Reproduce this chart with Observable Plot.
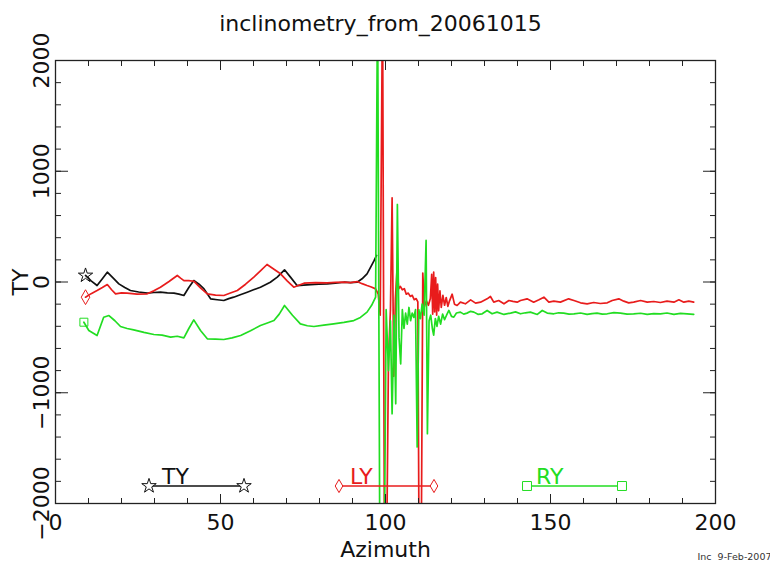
<!DOCTYPE html>
<html><head><meta charset="utf-8">
<script src="https://cdn.jsdelivr.net/npm/d3@7"></script>
<script src="https://cdn.jsdelivr.net/npm/@observablehq/plot@0.6"></script>
<style>
html,body{margin:0;padding:0;background:#fff;}
#chart{width:770px;height:565px;overflow:hidden;}
</style></head><body><div id="chart"></div>
<script>
const chartTitle = "inclinometry_from_20061015";
const xLabel = "Azimuth";
const yLabel = "TY";
const stamp = "Inc  9-Feb-2007";
const xTickValues = [0, 50, 100, 150, 200];
const xMinorTicks = d3.range(0, 201, 10);
const yTickValues = [-2000, -1000, 0, 1000, 2000];
const yMinorTicks = d3.range(-2000, 2001, 200);
const seriesNames = ["TY", "LY", "RY"];
const seriesColors = ["#111111", "#e81c1c", "#22dd22"];
const seriesSymbols = ["star", "diamond", "square"];

// [azimuth, value]
const tyPoints = [[9.1,59],[10.8,10],[12.6,-32],[14.2,30],[15.7,89],[17.5,35],[19.2,-17],[21,-50],[22.7,-77],[25.2,-90],[27.8,-101],[29.8,-95],[31.8,-92],[33.9,-98],[35.9,-101],[37.4,-110],[38.9,-122],[40.4,-50],[41.9,13],[43.5,-20],[45,-62],[47,-152],[49,-160],[51,-167],[52.5,-150],[54,-137],[56,-115],[58.1,-92],[60,-70],[62.1,-47],[63.6,-25],[65.1,-2],[67.2,44],[69.4,110],[71.2,44],[73.2,-32],[75.2,-28],[77.3,-23],[79.8,-20],[82.3,-17],[84.8,-10],[87.4,-2],[89.4,-5],[91.4,-2],[92.9,29],[94.4,74],[95.5,134],[96.5,190],[97.3,240]];

const lyPoints = [[9.1,-137],[10.8,-105],[12.6,-77],[14.2,-50],[15.7,-23],[17,-70],[18.2,-107],[20,-98],[21.7,-101],[24.7,-110],[27.8,-107],[29.8,-80],[31.8,-47],[34.4,5],[36.9,59],[37.9,35],[38.9,13],[40.4,12],[41.9,7],[44,-55],[46,-107],[48.5,-118],[51,-122],[53,-100],[55.1,-77],[57.6,-20],[60.1,44],[62.1,100],[64.1,158],[66.2,115],[68.2,74],[70.2,10],[72.2,-47],[73.7,-30],[75.3,-11],[78.8,-5],[82.3,-8],[84.8,-4],[87.4,-2],[89.4,-6],[91.4,4],[92.9,-15],[94.4,-32],[95.7,-45],[97.0,-62],
[97.8,-110],[98.4,-300],[99.1,2600],[99.7,-2600],[100.3,-2600],[100.9,-700],[101.5,-250],[102.0,760],[102.5,-850],[103.0,-150],[103.5,120],[104.0,-60],[104.5,-40],[105.1,-70],[105.7,-60],[106.3,-110],[106.9,-100],[107.5,-130],[108.1,-120],[108.7,-160],[109.3,-150],[109.8,-180],[110.2,-2600],[110.8,-2600],[111.3,80],[111.8,-220],[112.4,-170],[113.0,-210],[113.6,-150],[114.0,70],[114.3,-290],[114.6,90],[114.9,-270],[115.2,40],[115.5,-300],[115.8,-20],[116.1,-260],[116.5,-80],[116.9,-230],[117.4,-120],[117.9,-210],[118.4,-140],[118.9,-220],[119.4,-170],[120.2,-110],[120.9,-200],[121.7,-212],[122.7,-182],[124.2,-197],[125.8,-161],[127.3,-191],[128.8,-182],[130.8,-152],[131.8,-131],[132.8,-182],[134.3,-167],[135.9,-197],[137.4,-167],[138.6,-175],[139.9,-182],[140.9,-167],[142.9,-152],[144.9,-182],[146.5,-161],[148,-137],[149.5,-182],[151,-173],[153,-182],[155.5,-152],[157.1,-167],[159.1,-188],[161.1,-197],[163.1,-185],[165.1,-194],[167.2,-188],[168.7,-167],[170.7,-152],[172.2,-173],[173.7,-188],[175.2,-182],[177.3,-167],[179.3,-182],[181.3,-176],[183.3,-185],[185.3,-173],[187.4,-182],[188.9,-161],[190.4,-182],[191.9,-173],[193.4,-182]];

const ryPoints = [[8.6,-363],[10.1,-438],[12.6,-483],[14.6,-318],[16.2,-303],[18,-350],[19.7,-402],[21.7,-420],[23.7,-432],[26.8,-455],[29.8,-474],[32.3,-480],[34.9,-498],[36.9,-490],[38.9,-504],[40.4,-420],[41.9,-342],[44,-440],[46,-513],[48.5,-515],[51,-519],[53.5,-505],[56.1,-483],[59.1,-440],[62.1,-393],[64.2,-370],[66.2,-348],[67.8,-290],[69.4,-212],[71.8,-300],[74.2,-378],[76.3,-395],[78.3,-402],[81.3,-390],[84.3,-378],[87.4,-365],[90.4,-348],[92.4,-320],[94.4,-272],[95.8,-210],[97.0,-137],
[97.6,2600],[98.3,-2600],[99.6,-2600],[100.2,-250],[100.9,-800],[101.5,-350],[102.0,-1190],[102.6,-300],[103.1,-1100],[103.6,700],[104.1,-500],[104.6,-740],[105.1,-250],[105.6,-420],[106.1,-280],[106.6,-380],[107.1,-230],[107.6,-350],[108.1,-280],[108.6,-320],[109.1,-250],[109.6,-1490],[110.1,-250],[110.6,-330],[111.1,-200],[111.7,-300],[112.3,375],[112.7,-1370],[113.2,-350],[113.7,-300],[114.2,-420],[114.6,-480],[115.1,-330],[115.6,-400],[116.1,-310],[116.7,-380],[117.3,-290],[117.9,-340],[118.5,-300],[119.2,-257],[120.0,-310],[120.7,-317],[121.5,-280],[122.7,-272],[123.7,-290],[124.7,-281],[125.8,-265],[126.8,-272],[128,-292],[129.3,-287],[130.8,-257],[132.3,-287],[133.8,-272],[135.9,-293],[137.9,-281],[139.4,-270],[140.9,-287],[142.4,-278],[143.9,-272],[146,-293],[147.5,-257],[149,-281],[151,-287],[152.5,-278],[154,-281],[155.6,-290],[157.1,-287],[159.1,-280],[161.1,-293],[162.6,-285],[164.1,-281],[165.7,-290],[167.2,-287],[169.2,-276],[171.2,-281],[173.2,-290],[175.2,-287],[177.3,-282],[179.3,-293],[181.3,-285],[183.3,-287],[185.3,-280],[187.4,-293],[189.4,-284],[191.4,-287],[193.4,-293]];

const series = [tyPoints, lyPoints, ryPoints].map((pts, i) =>
  pts.map(([x, y]) => ({x, y, name: seriesNames[i]})));
const firstPoints = series.map(s => s[0]);
const fmtY = d => d < 0 ? "\u2212" + Math.abs(d) : String(d);

const W = 770, H = 565;
const M = {left: 55, right: 55, top: 60, bottom: 62};
const FONT = 22;
const colorOf = name => seriesColors[seriesNames.indexOf(name)];
const symbolOf = name => seriesSymbols[seriesNames.indexOf(name)];

const plot = Plot.plot({
  width: W, height: H,
  marginLeft: M.left, marginRight: M.right, marginTop: M.top, marginBottom: M.bottom,
  x: {domain: [0, 200], axis: null},
  y: {domain: [-2000, 2000], axis: null},
  style: {fontFamily: "DejaVu Sans", fontSize: FONT + "px", background: "#fff", color: "#111"},
  marks: [
    ...series.map(s => Plot.line(s, {x: "x", y: "y", stroke: colorOf(s[0].name), strokeWidth: 1.7, clip: true})),
    Plot.dot(firstPoints, {x: "x", y: "y", symbol: d => symbolOf(d.name), stroke: d => colorOf(d.name), fill: "none", r: 4.5, strokeWidth: 1}),
    Plot.axisX(xMinorTicks, {anchor: "bottom", tickSize: -5, tickFormat: () => "", label: null, stroke: "#222"}),
    Plot.axisX(xTickValues, {anchor: "bottom", tickSize: -9, tickFormat: () => "", label: null, stroke: "#222"}),
    Plot.axisX(xMinorTicks, {anchor: "top", tickSize: -5, tickFormat: () => "", label: null, stroke: "#222"}),
    Plot.axisX(xTickValues, {anchor: "top", tickSize: -9, tickFormat: () => "", label: null, stroke: "#222"}),
    Plot.axisY(yMinorTicks, {anchor: "left", tickSize: -6, tickFormat: () => "", label: null, stroke: "#222"}),
    Plot.axisY(yTickValues, {anchor: "left", tickSize: -13, tickFormat: () => "", label: null, stroke: "#222"}),
    Plot.axisY(yMinorTicks, {anchor: "right", tickSize: -6, tickFormat: () => "", label: null, stroke: "#222"}),
    Plot.axisY(yTickValues, {anchor: "right", tickSize: -13, tickFormat: () => "", label: null, stroke: "#222"}),
    Plot.frame({stroke: "#222", strokeWidth: 1.3}),
    Plot.text(xTickValues, {x: d => d, frameAnchor: "bottom", dy: 11, lineAnchor: "top", text: d => String(d), fontSize: FONT, fill: "#111"}),
    Plot.text(yTickValues, {y: d => d, frameAnchor: "left", dx: -7, rotate: -90, lineAnchor: "bottom", textAnchor: "middle", text: fmtY, fontSize: FONT, fill: "#111"}),
    Plot.text([chartTitle], {frameAnchor: "top", dx: -5, dy: -30, lineAnchor: "bottom", text: d => d, fontSize: FONT, fill: "#111"}),
    Plot.text([xLabel], {frameAnchor: "bottom", dy: 53, lineAnchor: "bottom", text: d => d, fontSize: FONT, fill: "#111"}),
    Plot.text([yLabel], {frameAnchor: "left", dx: -28, rotate: -90, lineAnchor: "bottom", textAnchor: "middle", text: d => d, fontSize: FONT, fill: "#111"}),
    Plot.text([stamp], {frameAnchor: "bottom-right", dx: -18, dy: 56, textAnchor: "start", lineAnchor: "bottom", text: d => d, fontSize: 9.5, fill: "#333"})
  ]
});

// legend (IDL-style, inside the frame near the bottom)
const legendLayout = {y: H - M.bottom - 17, starts: [149, 339, 527], length: 95, labelDx: [13, 11, 9]};
const d3Sym = {star: [d3.symbolStar, 65], diamond: [d3.symbolDiamond, 50], square: [d3.symbolSquare, 80]};
const svg = d3.select(plot);
const lg = svg.append("g").attr("font-family", "DejaVu Sans").attr("font-size", FONT).attr("text-anchor", "start");
seriesNames.forEach((name, i) => {
  const x0 = legendLayout.starts[i], x1 = x0 + legendLayout.length, y = legendLayout.y;
  const c = seriesColors[i];
  lg.append("line").attr("x1", x0).attr("x2", x1).attr("y1", y).attr("y2", y).attr("stroke", c).attr("stroke-width", 1.3);
  const [t, s] = d3Sym[seriesSymbols[i]];
  [x0, x1].forEach(xx => lg.append("path").attr("d", d3.symbol(t, s)()).attr("transform", `translate(${xx},${y})`).attr("fill", "#fff").attr("stroke", c).attr("stroke-width", 1));
  lg.append("text").attr("x", x0 + legendLayout.labelDx[i]).attr("y", y - 2).attr("fill", c).attr("text-anchor", "start").text(name);
});

document.getElementById("chart").appendChild(plot);
</script></body></html>
